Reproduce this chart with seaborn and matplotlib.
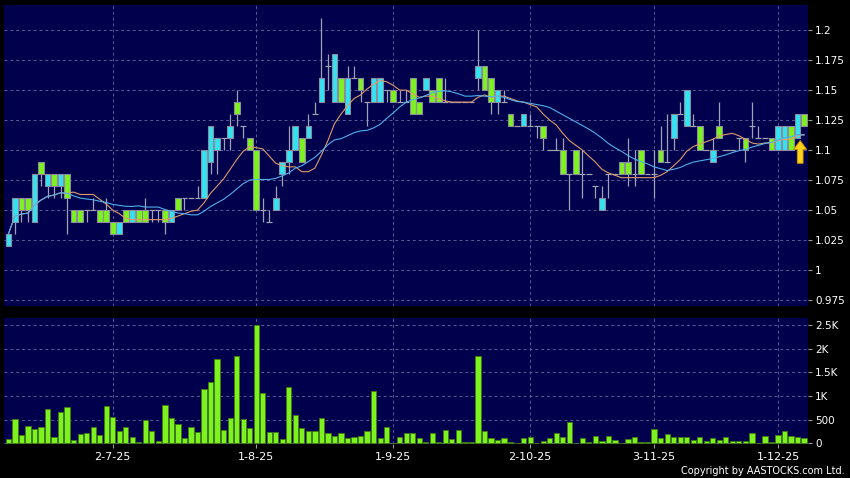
import numpy as np
import pandas as pd
import matplotlib
matplotlib.use('Agg')
import matplotlib.pyplot as plt
import seaborn as sns

# daily OHLC (one entry per trading day)
opens = [1.02, 1.04, 1.06, 1.06, 1.04, 1.09, 1.07, 1.08, 1.07, 1.08,
         1.05, 1.05, 1.05, 1.05, 1.05, 1.05, 1.04, 1.03, 1.05, 1.04,
         1.05, 1.05, 1.05, 1.05, 1.05, 1.04, 1.06, 1.06, 1.06, 1.06,
         1.06, 1.09, 1.10, 1.11, 1.11, 1.14, 1.12, 1.11, 1.10, 1.05,
         1.04, 1.05, 1.08, 1.09, 1.10, 1.11, 1.11, 1.13, 1.14, 1.17,
         1.14, 1.16, 1.13, 1.16, 1.16, 1.14, 1.14, 1.14, 1.15, 1.15,
         1.14, 1.14, 1.16, 1.14, 1.15, 1.15, 1.16, 1.14, 1.14, 1.14,
         1.14, 1.14, 1.16, 1.17, 1.16, 1.14, 1.14, 1.13, 1.12, 1.12,
         1.12, 1.12, 1.12, 1.10, 1.10, 1.10, 1.08, 1.10, 1.08, 1.08,
         1.07, 1.05, 1.08, 1.08, 1.09, 1.09, 1.08, 1.10, 1.08, 1.08,
         1.10, 1.09, 1.11, 1.13, 1.12, 1.12, 1.12, 1.10, 1.09, 1.12,
         1.10, 1.10, 1.11, 1.11, 1.12, 1.11, 1.11, 1.11, 1.10, 1.10,
         1.12, 1.11, 1.13]
highs = [1.03, 1.06, 1.06, 1.06, 1.08, 1.09, 1.08, 1.08, 1.08, 1.08,
         1.05, 1.05, 1.05, 1.06, 1.05, 1.06, 1.04, 1.04, 1.05, 1.05,
         1.05, 1.06, 1.05, 1.05, 1.05, 1.05, 1.06, 1.06, 1.06, 1.07,
         1.10, 1.12, 1.11, 1.11, 1.13, 1.15, 1.12, 1.11, 1.10, 1.06,
         1.05, 1.07, 1.09, 1.12, 1.12, 1.11, 1.13, 1.14, 1.21, 1.18,
         1.18, 1.16, 1.17, 1.17, 1.16, 1.14, 1.16, 1.16, 1.15, 1.15,
         1.15, 1.15, 1.16, 1.14, 1.16, 1.15, 1.16, 1.16, 1.14, 1.14,
         1.14, 1.14, 1.20, 1.17, 1.16, 1.15, 1.15, 1.13, 1.12, 1.13,
         1.13, 1.12, 1.12, 1.10, 1.11, 1.11, 1.08, 1.10, 1.10, 1.08,
         1.07, 1.07, 1.08, 1.08, 1.09, 1.11, 1.10, 1.10, 1.08, 1.10,
         1.12, 1.13, 1.13, 1.14, 1.15, 1.13, 1.12, 1.10, 1.11, 1.14,
         1.10, 1.10, 1.11, 1.11, 1.14, 1.12, 1.11, 1.11, 1.12, 1.12,
         1.12, 1.13, 1.13]
lows = [1.02, 1.03, 1.04, 1.04, 1.04, 1.07, 1.06, 1.06, 1.06, 1.03,
        1.04, 1.04, 1.04, 1.05, 1.04, 1.04, 1.03, 1.03, 1.04, 1.04,
        1.04, 1.04, 1.04, 1.04, 1.03, 1.04, 1.05, 1.05, 1.06, 1.06,
        1.06, 1.08, 1.08, 1.10, 1.10, 1.12, 1.11, 1.10, 1.05, 1.04,
        1.04, 1.05, 1.07, 1.08, 1.10, 1.09, 1.11, 1.13, 1.14, 1.15,
        1.14, 1.14, 1.13, 1.16, 1.14, 1.12, 1.14, 1.14, 1.14, 1.14,
        1.14, 1.14, 1.13, 1.13, 1.15, 1.14, 1.14, 1.14, 1.14, 1.14,
        1.14, 1.14, 1.15, 1.15, 1.13, 1.13, 1.14, 1.12, 1.12, 1.12,
        1.12, 1.11, 1.10, 1.10, 1.10, 1.08, 1.05, 1.08, 1.06, 1.08,
        1.06, 1.05, 1.06, 1.08, 1.08, 1.07, 1.07, 1.08, 1.08, 1.06,
        1.09, 1.09, 1.10, 1.13, 1.12, 1.12, 1.10, 1.10, 1.09, 1.11,
        1.10, 1.10, 1.10, 1.09, 1.11, 1.11, 1.11, 1.10, 1.10, 1.10,
        1.10, 1.11, 1.12]
closes = [1.03, 1.06, 1.05, 1.05, 1.08, 1.08, 1.08, 1.07, 1.08, 1.06,
          1.04, 1.04, 1.05, 1.05, 1.04, 1.04, 1.03, 1.04, 1.04, 1.05,
          1.04, 1.04, 1.05, 1.05, 1.04, 1.05, 1.05, 1.06, 1.06, 1.06,
          1.10, 1.12, 1.11, 1.11, 1.12, 1.13, 1.12, 1.10, 1.05, 1.05,
          1.04, 1.06, 1.09, 1.10, 1.12, 1.09, 1.12, 1.13, 1.16, 1.17,
          1.18, 1.14, 1.16, 1.16, 1.15, 1.14, 1.16, 1.16, 1.15, 1.14,
          1.14, 1.14, 1.13, 1.13, 1.16, 1.14, 1.14, 1.14, 1.14, 1.14,
          1.14, 1.14, 1.17, 1.15, 1.14, 1.15, 1.14, 1.12, 1.12, 1.13,
          1.12, 1.12, 1.11, 1.10, 1.10, 1.08, 1.08, 1.08, 1.08, 1.08,
          1.07, 1.06, 1.08, 1.08, 1.08, 1.08, 1.08, 1.08, 1.08, 1.08,
          1.09, 1.09, 1.13, 1.13, 1.15, 1.12, 1.10, 1.10, 1.10, 1.11,
          1.10, 1.10, 1.11, 1.10, 1.12, 1.11, 1.11, 1.10, 1.12, 1.12,
          1.10, 1.13, 1.12]
volumes = [84, 507, 183, 359, 303, 345, 732, 127, 655, 760,
           63, 204, 211, 352, 176, 788, 563, 268, 338, 141,
           21, 493, 253, 42, 803, 542, 408, 113, 338, 239,
           1148, 1302, 1774, 282, 542, 1844, 514, 317, 2500, 1070,
           239, 232, 92, 1197, 598, 324, 253, 253, 528, 218,
           155, 211, 113, 134, 148, 268, 1105, 113, 338, 5,
           134, 225, 225, 113, 28, 218, 28, 282, 84, 282,
           28, 28, 1837, 253, 106, 77, 106, 35, 7, 120,
           141, 7, 56, 113, 225, 127, 450, 3, 113, 21,
           155, 56, 148, 63, 7, 84, 141, 21, 21, 296,
           106, 197, 134, 134, 134, 70, 134, 42, 120, 70,
           127, 56, 56, 56, 211, 14, 155, 21, 183, 253,
           162, 127, 120]

date_bars = [16, 38, 59, 80, 99, 118]
date_labels = ['2-7-25', '1-8-25', '1-9-25', '2-10-25', '3-11-25', '1-12-25']
price_ticks = [1.2, 1.175, 1.15, 1.125, 1.1, 1.075, 1.05, 1.025, 1.0, 0.975]
price_labels = ['1.2', '1.175', '1.15', '1.125', '1.1', '1.075', '1.05', '1.025', '1', '0.975']
vol_ticks = [0, 500, 1000, 1500, 2000, 2500]
vol_labels = ['0', '500', '1K', '1.5K', '2K', '2.5K']

NAVY = '#00004c'
GRID = '#5a5a9a'
UP = '#33e3f2'
DOWN = '#7ef21e'
EDGE = '#8c8ca0'
WICK = '#a0a0b4'

df = pd.DataFrame({'open': opens, 'high': highs, 'low': lows,
                   'close': closes, 'volume': volumes})
df['bar'] = np.arange(len(df))
df['ma10'] = df['close'].rolling(10, min_periods=1).mean()
df['ma20'] = df['close'].rolling(20, min_periods=1).mean()

fig = plt.figure(figsize=(8.5, 4.78), dpi=100, facecolor='black')
ax = fig.add_axes([4 / 850, 1 - 306 / 478, 804 / 850, 301 / 478])
axv = fig.add_axes([4 / 850, 1 - 444 / 478, 804 / 850, 126 / 478])

# price panel
up = df['close'] > df['open']
down = df['close'] < df['open']
flat = df['close'] == df['open']
ax.vlines(df['bar'], df['low'], df['high'], color=WICK, lw=0.9, zorder=2)
ax.bar(df['bar'][up], (df['close'] - df['open'])[up], bottom=df['open'][up],
       width=0.88, color=UP, edgecolor=EDGE, linewidth=0.8, zorder=3)
ax.bar(df['bar'][down], (df['open'] - df['close'])[down], bottom=df['close'][down],
       width=0.88, color=DOWN, edgecolor=EDGE, linewidth=0.8, zorder=3)
ax.hlines(df['close'][flat], df['bar'][flat] - 0.45, df['bar'][flat] + 0.45,
          color=WICK, lw=0.9, zorder=3)

sns.lineplot(data=df, x='bar', y='ma10', ax=ax, color='#e09a6c', lw=0.8, zorder=4)
sns.lineplot(data=df, x='bar', y='ma20', ax=ax, color='#4fb0ea', lw=0.8, zorder=4)

# signal arrow under the last bar
last = df.iloc[-1]
ax.annotate('', xy=(last['bar'] - 0.6, last['close'] - 0.012),
            xytext=(last['bar'] - 0.6, last['close'] - 0.031),
            arrowprops=dict(facecolor='#ffd21a', edgecolor='#c89000', lw=0.6,
                            width=4.2, headwidth=9.5, headlength=6.5),
            zorder=5)

ax.set_xlim(-0.67, len(df) - 0.4)
ax.set_ylim(0.97, 1.221)
ax.set_yticks(price_ticks, price_labels)
ax.set_xticks(date_bars)
ax.tick_params(axis='x', length=0, labelbottom=False)

# volume panel
sns.barplot(x=df['bar'], y=df['volume'], native_scale=True, width=0.8,
            color=DOWN, saturation=1, edgecolor='#3e7c12', linewidth=0.6,
            errorbar=None, ax=axv, zorder=3)
axv.set_xlim(-0.67, len(df) - 0.4)
axv.set_ylim(-15, 2650)
axv.set_yticks(vol_ticks, vol_labels)
axv.set_xticks(date_bars, date_labels)
axv.tick_params(axis='x', length=3, color='#9a9a9a', labelcolor='white',
                labelsize=8, pad=2.5)

for a in (ax, axv):
    a.set_facecolor(NAVY)
    a.set_xlabel('')
    a.set_ylabel('')
    a.yaxis.tick_right()
    a.tick_params(axis='y', length=3, color='#9a9a9a', labelcolor='white',
                  labelsize=7.5, pad=2)
    a.grid(True, color=GRID, ls=(0, (3, 3)), lw=0.7, zorder=0)
    a.set_axisbelow(True)
    for s in a.spines.values():
        s.set_visible(False)

fig.text(845 / 850, 1 - 471 / 478, 'Copyright by AASTOCKS.com Ltd.',
         color='white', fontsize=7, ha='right', va='center')

fig.savefig('out.png', dpi=100, facecolor='black')
